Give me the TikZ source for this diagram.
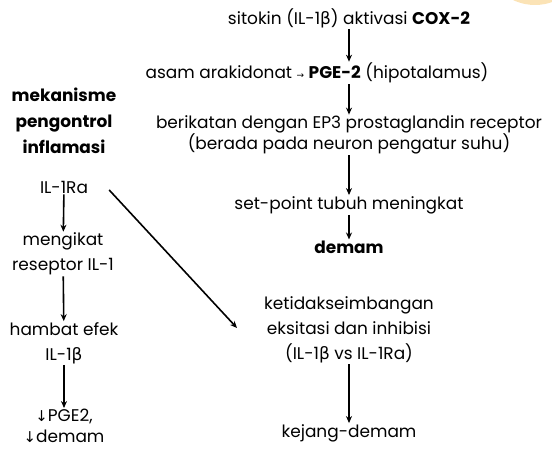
\documentclass[tikz,border=0pt]{standalone}
\usepackage{fontspec}
\setmainfont{Poppins}
\newfontfamily\symb{DejaVu Sans}
\usetikzlibrary{positioning,arrows.meta}
\definecolor{peach}{HTML}{FBE3B6}
\newcommand{\bet}{{\symb β}}
\newcommand{\dn}{{\symb\fontsize{15}{15}\selectfont ↓}}
\newcommand{\ra}{{\symb\fontsize{9}{9}\selectfont →}}

\begin{document}
\begin{tikzpicture}[
    x=1bp,y=-1bp,
    txt/.style={align=center,font=\fontsize{17}{25}\selectfont,inner sep=1pt},
    tight/.style={txt,font=\fontsize{17}{21}\selectfont},
    head/.style={txt,font=\fontsize{17}{26}\selectfont\bfseries},
    arr/.style={-{Stealth[length=7bp,width=6bp]},line width=1.6bp}
  ]
    \useasboundingbox (0,0) rectangle (552,449);
    \begin{scope}
      \clip (0,0) rectangle (552,449);
      \fill[peach] (535,-46) circle (51);
    \end{scope}

    % main pathway
    \node[txt] (cox) at (349,18) {sitokin (IL-1\bet) aktivasi \textbf{COX-2}};
    \node[txt] (pge) at (317,73) {asam arakidonat \ra\ \textbf{PGE-2} (hipotalamus)};
    \node[tight] (ep3) at (349,135) {berikatan dengan EP3 prostaglandin receptor\\(berada pada neuron pengatur suhu)};
    \node[txt] (setp) at (349,205) {set-point tubuh meningkat};
    \node[head] (dem) at (349,247) {demam};

    % control of inflammation
    \node[head] (mek) at (64,121) {mekanisme\\pengontrol\\inflamasi};
    \node[txt] (ra) at (64,187) {IL-1Ra};
    \node[txt] (ikat) at (63,254) {mengikat\\reseptor IL-1};
    \node[txt] (hamb) at (64,343) {hambat efek\\IL-1\bet};
    \node[tight] (turun) at (64,426) {\dn PGE2,\\\dn demam};

    % seizure branch
    \node[txt] (imb) at (349,330) {ketidakseimbangan\\eksitasi dan inhibisi\\(IL-1\bet\ vs IL-1Ra)};
    \node[txt] (kej) at (349,433) {kejang-demam};

    \draw[arr] (cox.south -| setp) -- (pge.north -| setp);
    \draw[arr] (pge.south -| setp) -- (ep3.north);
    \draw[arr] (ep3) -- (setp);
    \draw[arr] (setp) -- (dem);

    \draw[arr] (ra) -- (ikat);
    \draw[arr] (ikat) -- (hamb);
    \draw[arr] (hamb) -- (turun);

    \draw[arr] ([xshift=20bp,yshift=-3bp]ra.east) -- ([xshift=-26bp,yshift=2bp]imb.west);
    \draw[arr] (imb) -- (kej);
\end{tikzpicture}
\end{document}
